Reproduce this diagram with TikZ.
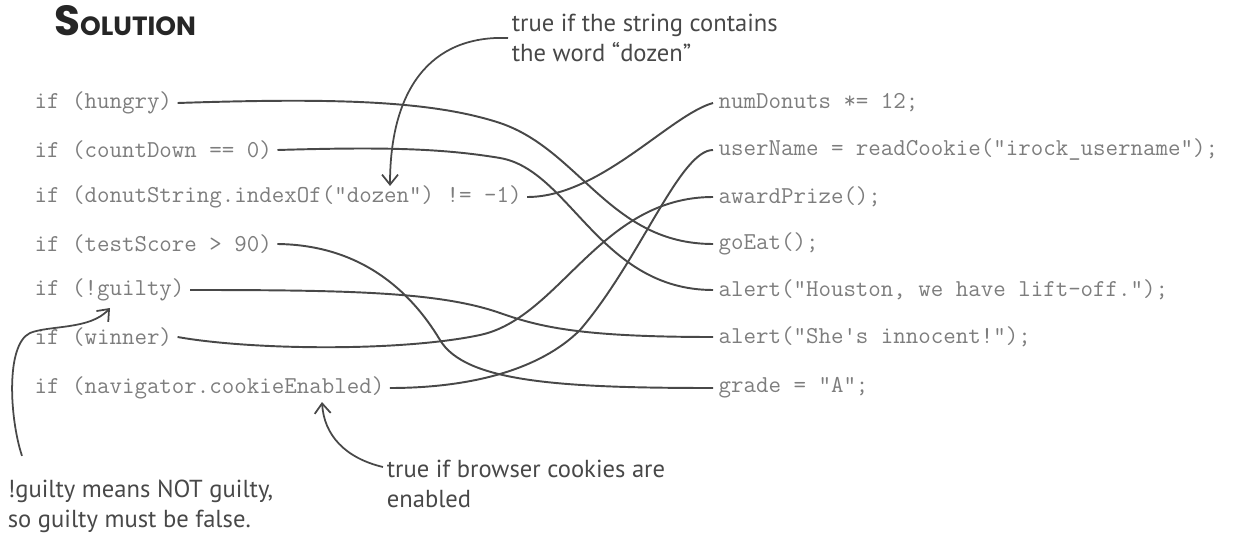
\documentclass[tikz,border=0pt]{standalone}
\usepackage{fontspec}
\newfontfamily\handfont{PT Sans}
\newfontfamily\titlefont{Poppins}
\usepackage{xcolor}
\usetikzlibrary{arrows.meta,positioning}
\definecolor{codegray}{RGB}{125,125,125}
\definecolor{inkgray}{RGB}{72,72,72}

\begin{document}
\begin{tikzpicture}[
x=0.02cm, y=-0.02cm,
code/.style={
    anchor=west,
    inner xsep=3pt,
    inner ysep=1pt,
    text=codegray,
    font=\ttfamily\fontsize{13.8}{15}\selectfont
},
note/.style={
    anchor=west,
    align=left,
    inner sep=2pt,
    text=inkgray,
    font=\handfont\fontsize{14}{17}\selectfont
},
link/.style={
    draw=inkgray,
    line width=1.1pt
},
arrow/.style={
    -{Straight Barb[length=2mm,width=3.2mm]},
    draw=inkgray,
    line width=1pt
}
]

\useasboundingbox (0,0) rectangle (1243,547);

\node[anchor=west, text=black!85, font=\titlefont\bfseries] (title) at (48,21)
{{\fontsize{24}{24}\selectfont S}{\fontsize{15}{15}\selectfont OLUTION}};

\node[code] (hungry) at (29,103) {if (hungry)};
\node[code] (countdown) at (29,150) {if (countDown == 0)};
\node[code] (donut) at (29,197) {if (donutString.indexOf("dozen") != -1)};
\node[code] (testscore) at (29,244) {if (testScore > 90)};
\node[code] (guilty) at (29,290) {if (!guilty)};
\node[code] (winner) at (29,337) {if (winner)};
\node[code] (navigator) at (29,388) {if (navigator.cookieEnabled)};

\node[code] (numdonuts) at (713,103) {numDonuts *= 12;};
\node[code] (username) at (713,150) {userName = readCookie("irock\_username");};
\node[code] (awardprize) at (713,197) {awardPrize();};
\node[code] (goeat) at (713,244) {goEat();};
\node[code] (houston) at (713,290) {alert("Houston, we have lift-off.");};
\node[code] (innocent) at (713,337) {alert("She's innocent!");};
\node[code] (grade) at (713,388) {grade = "A";};

\node[note] (dozennote) at (508,38)
{true if the string contains\\the word “dozen”};
\node[note] (guiltynote) at (4,506)
{!guilty means NOT guilty,\\so guilty must be false.};
\node[note] (cookienote) at (383,484)
{true if browser cookies are\\enabled};

\coordinate (dozenword) at (390,186);
\coordinate (guiltyword) at (110,308);
\coordinate (enabledword) at (322,402);

\draw[link] (hungry.east) .. controls (330,98) and (430,100) .. (500,123)
  .. controls (580,150) and (610,244) .. (goeat.west);
\draw[link] (countdown.east) .. controls (380,147) and (440,148) .. (500,158)
  .. controls (570,170) and (600,290) .. (houston.west);
\draw[link] (donut.east) .. controls (600,197) and (670,115) .. (numdonuts.west);
\draw[link] (testscore.east) .. controls (360,245) and (410,290) .. (440,340)
  .. controls (465,382) and (560,388) .. (grade.west);
\draw[link] (guilty.east) .. controls (350,290) and (440,292) .. (500,313)
  .. controls (540,327) and (580,337) .. (innocent.west);
\draw[link] (winner.east) .. controls (250,350) and (400,352) .. (480,335)
  .. controls (560,318) and (600,197) .. (awardprize.west);
\draw[link] (navigator.east) .. controls (470,388) and (540,370) .. (580,330)
  .. controls (640,260) and (680,150) .. (username.west);

\draw[arrow] (dozennote.west) .. controls (430,35) and (390,90) .. (dozenword);
\draw[arrow] ([xshift=0.36cm,yshift=0.4cm]guiltynote.north west)
  .. controls (10,420) and (5,345) .. (30,333)
  .. controls (50,325) and (90,330) .. (guiltyword);
\draw[arrow] ([yshift=0.34cm]cookienote.west)
  .. controls (345,458) and (324,435) .. (enabledword);

\end{tikzpicture}
\end{document}
